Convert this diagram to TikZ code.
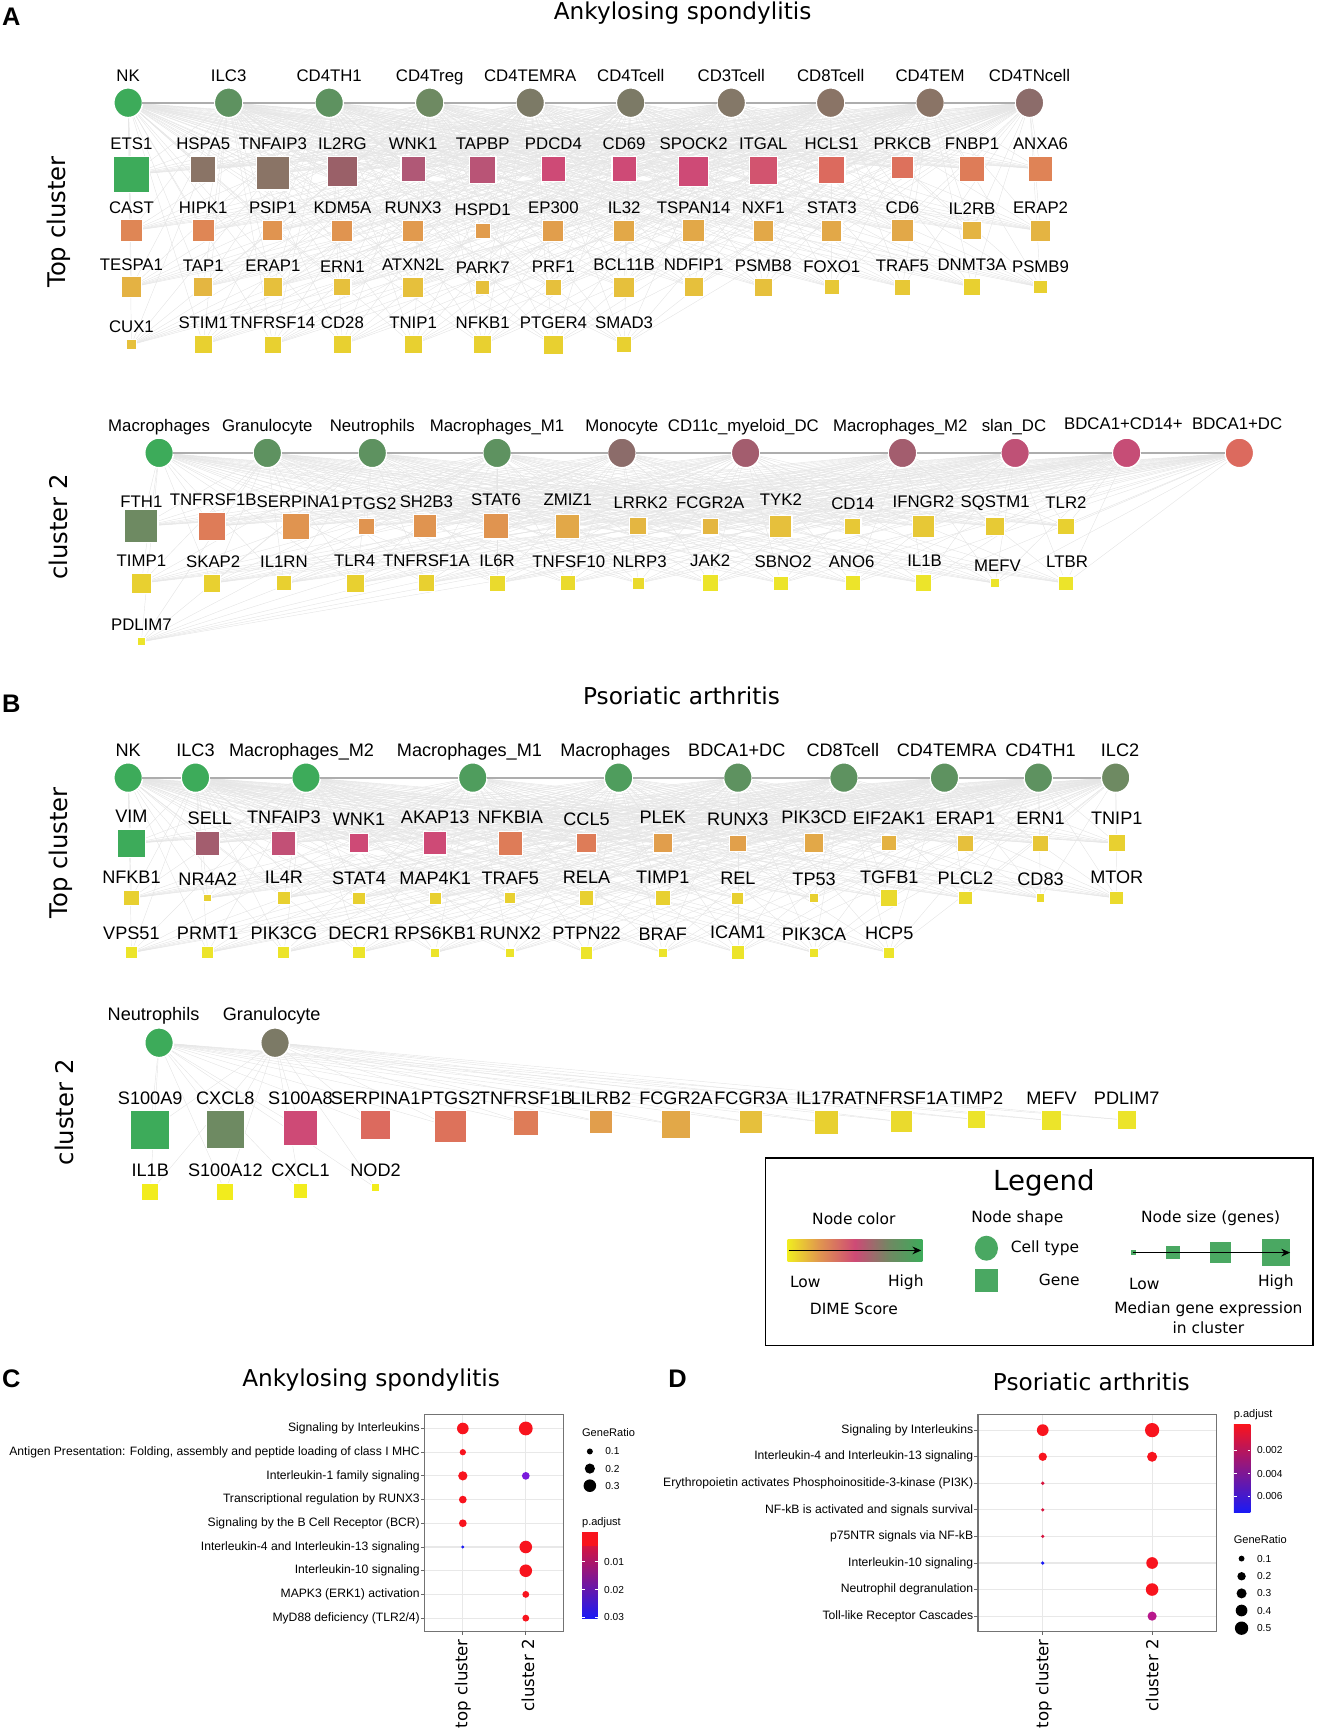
\documentclass[tikz,border=0pt]{standalone}
\usepackage{fontspec}
\setmainfont{Liberation Sans}
\newfontfamily\vfont{DejaVu Sans}
\usetikzlibrary{arrows.meta, shapes.geometric, backgrounds}

\definecolor{dGreen}{HTML}{3DAB5A}
\definecolor{dSage}{HTML}{5E9260}
\definecolor{dOlive}{HTML}{6E8A62}
\definecolor{dKhaki}{HTML}{7C7A66}
\definecolor{dStone}{HTML}{847868}
\definecolor{dTaupe}{HTML}{8A7466}
\definecolor{dDusk}{HTML}{8C6C6A}
\definecolor{dMauve}{HTML}{9A6068}
\definecolor{dPlum}{HTML}{B05876}
\definecolor{dRose}{HTML}{CE4A76}
\definecolor{dCoral}{HTML}{DC6A5E}
\definecolor{dSalmon}{HTML}{DE7C58}
\definecolor{dOrange}{HTML}{E09450}
\definecolor{dAmber}{HTML}{E2A848}
\definecolor{dGold}{HTML}{E6C03C}
\definecolor{dYellow}{HTML}{E8D030}
\definecolor{dLemon}{HTML}{ECE42A}
\definecolor{dBright}{HTML}{F0EC20}
\definecolor{dLegend}{HTML}{4AA862}
\definecolor{pRed}{HTML}{F8141E}
\definecolor{pBlue}{HTML}{1A1AF5}
\definecolor{pPurple}{HTML}{7A1ADC}
\definecolor{pMag}{HTML}{B8188C}

\pgfdeclarehorizontalshading{dimescale}{100bp}{color(0bp)=(dBright); color(25bp)=(dBright); color(37bp)=(dOrange); color(50bp)=(dRose); color(63bp)=(dOlive); color(75bp)=(dGreen); color(100bp)=(dGreen)}

\begin{document}
\begin{tikzpicture}[x=0.5pt, y=-0.5pt,
    every node/.style={inner sep=0pt, outer sep=0pt},
    cell/.style={ellipse, draw=white, line width=0.7pt, minimum width=13pt, minimum height=13.5pt},
    gene/.style={rectangle, draw=white, line width=0.5pt, minimum size=#1*0.5pt},
    lab/.style={font=\fontsize{7.6}{8}\selectfont, anchor=base},
    labB/.style={font=\fontsize{8.2}{9}\selectfont, anchor=base},
    link/.style={draw=black!10, line width=0.2pt},
    spine/.style={draw=black!32, line width=0.8pt},
    panel/.style={font=\bfseries\fontsize{11.5}{12}\selectfont, anchor=base west},
    title/.style={font=\vfont\fontsize{10.5}{11}\selectfont, anchor=base},
    side/.style={font=\vfont\fontsize{11}{11}\selectfont, rotate=90},
    pwy/.style={font=\fontsize{5.5}{6}\selectfont, anchor=east},
    dot/.style={circle, minimum size=#1*0.5pt},
    ltext/.style={font=\fontsize{5}{6}\selectfont, anchor=west},
    axlab/.style={font=\vfont\fontsize{7.5}{8}\selectfont, rotate=90, anchor=east},
    leg/.style={font=\vfont\fontsize{7}{8}\selectfont}]

\useasboundingbox (0,0) rectangle (1192,1568);

% ---------------- A: Ankylosing spondylitis ----------------
\node[panel] (lblA) at (2,23) {A};
\node[title] (ttlA) at (618,18) {Ankylosing spondylitis};
\node[side] (sideAT) at (53,201) {Top cluster};

% cell types
\node[cell, fill=dGreen]  (aT-NK)       at (116,93) {}; \node[lab] (aT-NK-t)       at (116,74) {NK};
\node[cell, fill=dSage]   (aT-ILC3)     at (207,93) {}; \node[lab] (aT-ILC3-t)     at (207,74) {ILC3};
\node[cell, fill=dSage]   (aT-CD4TH1)   at (298,93) {}; \node[lab] (aT-CD4TH1-t)   at (298,74) {CD4TH1};
\node[cell, fill=dOlive]  (aT-CD4Treg)  at (389,93) {}; \node[lab] (aT-CD4Treg-t)  at (389,74) {CD4Treg};
\node[cell, fill=dKhaki]  (aT-CD4TEMRA) at (480,93) {}; \node[lab] (aT-CD4TEMRA-t) at (480,74) {CD4TEMRA};
\node[cell, fill=dKhaki]  (aT-CD4Tcell) at (571,93) {}; \node[lab] (aT-CD4Tcell-t) at (571,74) {CD4Tcell};
\node[cell, fill=dStone]  (aT-CD3Tcell) at (662,93) {}; \node[lab] (aT-CD3Tcell-t) at (662,74) {CD3Tcell};
\node[cell, fill=dTaupe]  (aT-CD8Tcell) at (752,93) {}; \node[lab] (aT-CD8Tcell-t) at (752,74) {CD8Tcell};
\node[cell, fill=dTaupe]  (aT-CD4TEM)   at (842,93) {}; \node[lab] (aT-CD4TEM-t)   at (842,74) {CD4TEM};
\node[cell, fill=dDusk]   (aT-CD4TNcell) at (932,93) {}; \node[lab] (aT-CD4TNcell-t) at (932,74) {CD4TNcell};

% genes, row 1
\node[gene=32, fill=dGreen, anchor=north]  (aT-ETS1)    at (119,142) {}; \node[lab] (aT-ETS1-t)    at (119,135.5) {ETS1};
\node[gene=23, fill=dTaupe, anchor=north]  (aT-HSPA5)   at (184,142) {}; \node[lab] (aT-HSPA5-t)   at (184,135.5) {HSPA5};
\node[gene=30, fill=dTaupe, anchor=north]  (aT-TNFAIP3) at (247,142) {}; \node[lab] (aT-TNFAIP3-t) at (247,135.5) {TNFAIP3};
\node[gene=27, fill=dMauve, anchor=north]  (aT-IL2RG)   at (310,142) {}; \node[lab] (aT-IL2RG-t)   at (310,135.5) {IL2RG};
\node[gene=22, fill=dPlum, anchor=north]   (aT-WNK1)    at (374,142) {}; \node[lab] (aT-WNK1-t)    at (374,135.5) {WNK1};
\node[gene=24, fill=dPlum!70!dRose, anchor=north] (aT-TAPBP) at (437,142) {}; \node[lab] (aT-TAPBP-t) at (437,135.5) {TAPBP};
\node[gene=22, fill=dRose, anchor=north]   (aT-PDCD4)   at (501,142) {}; \node[lab] (aT-PDCD4-t)   at (501,135.5) {PDCD4};
\node[gene=22, fill=dRose, anchor=north]   (aT-CD69)    at (565,142) {}; \node[lab] (aT-CD69-t)    at (565,135.5) {CD69};
\node[gene=27, fill=dRose, anchor=north]   (aT-SPOCK2)  at (628,142) {}; \node[lab] (aT-SPOCK2-t)  at (628,135.5) {SPOCK2};
\node[gene=25, fill=dRose!70!dCoral, anchor=north] (aT-ITGAL) at (691,142) {}; \node[lab] (aT-ITGAL-t) at (691,135.5) {ITGAL};
\node[gene=24, fill=dCoral, anchor=north]  (aT-HCLS1)   at (753,142) {}; \node[lab] (aT-HCLS1-t)   at (753,135.5) {HCLS1};
\node[gene=20, fill=dCoral!60!dSalmon, anchor=north] (aT-PRKCB) at (817,142) {}; \node[lab] (aT-PRKCB-t) at (817,135.5) {PRKCB};
\node[gene=22, fill=dSalmon, anchor=north] (aT-FNBP1)   at (880,142) {}; \node[lab] (aT-FNBP1-t)   at (880,135.5) {FNBP1};
\node[gene=22, fill=dSalmon!70!dOrange, anchor=north] (aT-ANXA6) at (942,142) {}; \node[lab] (aT-ANXA6-t) at (942,135.5) {ANXA6};

% genes, row 2
\node[gene=20, fill=dSalmon!60!dOrange] (aT-CAST)    at (119,209) {}; \node[lab] (aT-CAST-t)    at (119,193) {CAST};
\node[gene=20, fill=dSalmon!60!dOrange] (aT-HIPK1)   at (184,209) {}; \node[lab] (aT-HIPK1-t)   at (184,193) {HIPK1};
\node[gene=18, fill=dOrange]            (aT-PSIP1)   at (247,209) {}; \node[lab] (aT-PSIP1-t)   at (247,193) {PSIP1};
\node[gene=19, fill=dOrange]            (aT-KDM5A)   at (310,209) {}; \node[lab] (aT-KDM5A-t)   at (310,193) {KDM5A};
\node[gene=18.5, fill=dOrange!70!dAmber] (aT-RUNX3)  at (374,209) {}; \node[lab] (aT-RUNX3-t)   at (374,193) {RUNX3};
\node[gene=13.5, fill=dOrange!60!dAmber] (aT-HSPD1)  at (437,209) {}; \node[lab] (aT-HSPD1-t)   at (437,195) {HSPD1};
\node[gene=19, fill=dOrange!50!dAmber]  (aT-EP300)   at (501,209) {}; \node[lab] (aT-EP300-t)   at (501,193) {EP300};
\node[gene=19, fill=dAmber]             (aT-IL32)    at (565,209) {}; \node[lab] (aT-IL32-t)    at (565,193) {IL32};
\node[gene=20, fill=dAmber]             (aT-TSPAN14) at (628,209) {}; \node[lab] (aT-TSPAN14-t) at (628,193) {TSPAN14};
\node[gene=18.5, fill=dAmber]           (aT-NXF1)    at (691,209) {}; \node[lab] (aT-NXF1-t)    at (691,193) {NXF1};
\node[gene=18.5, fill=dAmber]           (aT-STAT3)   at (753,209) {}; \node[lab] (aT-STAT3-t)   at (753,193) {STAT3};
\node[gene=20, fill=dAmber]             (aT-CD6)     at (817,209) {}; \node[lab] (aT-CD6-t)     at (817,193) {CD6};
\node[gene=16.5, fill=dAmber!50!dGold]  (aT-IL2RB)   at (880,209) {}; \node[lab] (aT-IL2RB-t)   at (880,194) {IL2RB};
\node[gene=18.5, fill=dAmber!50!dGold]  (aT-ERAP2)   at (942,209) {}; \node[lab] (aT-ERAP2-t)   at (942,193) {ERAP2};

% genes, row 3
\node[gene=19, fill=dAmber!60!dGold]    (aT-TESPA1)  at (119,260) {}; \node[lab] (aT-TESPA1-t)  at (119,245) {TESPA1};
\node[gene=17, fill=dAmber!40!dGold]    (aT-TAP1)    at (184,260) {}; \node[lab] (aT-TAP1-t)    at (184,246) {TAP1};
\node[gene=17.5, fill=dGold]            (aT-ERAP1)   at (247,260) {}; \node[lab] (aT-ERAP1-t)   at (247,246) {ERAP1};
\node[gene=15.5, fill=dGold]            (aT-ERN1)    at (310,260) {}; \node[lab] (aT-ERN1-t)    at (310,247) {ERN1};
\node[gene=18.5, fill=dGold]            (aT-ATXN2L)  at (374,260) {}; \node[lab] (aT-ATXN2L-t)  at (374,245) {ATXN2L};
\node[gene=12.5, fill=dGold]            (aT-PARK7)   at (437,260) {}; \node[lab] (aT-PARK7-t)   at (437,248) {PARK7};
\node[gene=14.5, fill=dGold]            (aT-PRF1)    at (501,260) {}; \node[lab] (aT-PRF1-t)    at (501,247) {PRF1};
\node[gene=18.5, fill=dGold]            (aT-BCL11B)  at (565,260) {}; \node[lab] (aT-BCL11B-t)  at (565,245) {BCL11B};
\node[gene=17.5, fill=dGold]            (aT-NDFIP1)  at (628,260) {}; \node[lab] (aT-NDFIP1-t)  at (628,245) {NDFIP1};
\node[gene=16.5, fill=dGold]            (aT-PSMB8)   at (691,260) {}; \node[lab] (aT-PSMB8-t)   at (691,246) {PSMB8};
\node[gene=13.5, fill=dGold!50!dYellow] (aT-FOXO1)   at (753,260) {}; \node[lab] (aT-FOXO1-t)   at (753,247) {FOXO1};
\node[gene=14.5, fill=dGold!50!dYellow] (aT-TRAF5)   at (817,260) {}; \node[lab] (aT-TRAF5-t)   at (817,246) {TRAF5};
\node[gene=15.5, fill=dYellow]          (aT-DNMT3A)  at (880,260) {}; \node[lab] (aT-DNMT3A-t)  at (880,245) {DNMT3A};
\node[gene=12, fill=dYellow]            (aT-PSMB9)   at (942,260) {}; \node[lab] (aT-PSMB9-t)   at (942,247) {PSMB9};

% genes, row 4
\node[gene=9, fill=dGold]       (aT-CUX1)     at (119,312) {}; \node[lab] (aT-CUX1-t)     at (119,301) {CUX1};
\node[gene=16.5, fill=dYellow]  (aT-STIM1)    at (184,312) {}; \node[lab] (aT-STIM1-t)    at (184,297) {STIM1};
\node[gene=15.5, fill=dYellow]  (aT-TNFRSF14) at (247,312) {}; \node[lab] (aT-TNFRSF14-t) at (247,297) {TNFRSF14};
\node[gene=16.5, fill=dYellow]  (aT-CD28)     at (310,312) {}; \node[lab] (aT-CD28-t)     at (310,297) {CD28};
\node[gene=16.5, fill=dYellow]  (aT-TNIP1)    at (374,312) {}; \node[lab] (aT-TNIP1-t)    at (374,297) {TNIP1};
\node[gene=16.5, fill=dYellow]  (aT-NFKB1)    at (437,312) {}; \node[lab] (aT-NFKB1-t)    at (437,297) {NFKB1};
\node[gene=17.5, fill=dYellow]  (aT-PTGER4)   at (501,312) {}; \node[lab] (aT-PTGER4-t)   at (501,297) {PTGER4};
\node[gene=14, fill=dYellow]    (aT-SMAD3)    at (565,312) {}; \node[lab] (aT-SMAD3-t)    at (565,297) {SMAD3};

\draw[spine] (aT-NK) -- (aT-ILC3) -- (aT-CD4TH1) -- (aT-CD4Treg) -- (aT-CD4TEMRA) -- (aT-CD4Tcell)
  -- (aT-CD3Tcell) -- (aT-CD8Tcell) -- (aT-CD4TEM) -- (aT-CD4TNcell);

% A, cluster 2
\node[side] (sideAC) at (53,477) {cluster 2};

\node[cell, fill=dGreen]  (aC-Mac)      at (144,410) {}; \node[lab] (aC-Mac-t)      at (144,390.5) {Macrophages};
\node[cell, fill=dSage]   (aC-Gran)     at (242,410) {}; \node[lab] (aC-Gran-t)     at (242,390.5) {Granulocyte};
\node[cell, fill=dSage]   (aC-Neu)      at (337,410) {}; \node[lab] (aC-Neu-t)      at (337,390.5) {Neutrophils};
\node[cell, fill=dSage]   (aC-MacM1)    at (450,410) {}; \node[lab] (aC-MacM1-t)    at (450,390.5) {Macrophages\_M1};
\node[cell, fill=dDusk]   (aC-Mono)     at (563,410) {}; \node[lab] (aC-Mono-t)     at (563,390.5) {Monocyte};
\node[cell, fill=dMauve!60!dPlum] (aC-mDC) at (675,410) {}; \node[lab] (aC-mDC-t) at (673,390.5) {CD11c\_myeloid\_DC};
\node[cell, fill=dMauve!60!dPlum] (aC-MacM2) at (817,410) {}; \node[lab] (aC-MacM2-t) at (815,390.5) {Macrophages\_M2};
\node[cell, fill=dPlum!50!dRose]  (aC-slanDC) at (919,410) {}; \node[lab] (aC-slanDC-t) at (918,390.5) {slan\_DC};
\node[cell, fill=dRose!75!dPlum]  (aC-BDCA1CD14) at (1020,410) {}; \node[lab] (aC-BDCA1CD14-t) at (1017,389) {BDCA1+CD14+};
\node[cell, fill=dCoral]  (aC-BDCA1DC)  at (1122,410) {}; \node[lab] (aC-BDCA1DC-t)  at (1120,389) {BDCA1+DC};

\node[gene=30, fill=dOlive]            (aC-FTH1)     at (128,476.5) {}; \node[lab] (aC-FTH1-t)     at (128,459) {FTH1};
\node[gene=25, fill=dSalmon]           (aC-TNFRSF1B) at (192,476.5) {}; \node[lab] (aC-TNFRSF1B-t) at (193,458) {TNFRSF1B};
\node[gene=24, fill=dOrange]           (aC-SERPINA1) at (268,476.5) {}; \node[lab] (aC-SERPINA1-t) at (270,459) {SERPINA1};
\node[gene=14.5, fill=dOrange]         (aC-PTGS2)    at (332,476.5) {}; \node[lab] (aC-PTGS2-t)    at (334,461) {PTGS2};
\node[gene=21, fill=dOrange]           (aC-SH2B3)    at (385,476.5) {}; \node[lab] (aC-SH2B3-t)    at (386,459) {SH2B3};
\node[gene=23, fill=dOrange]           (aC-STAT6)    at (449,476.5) {}; \node[lab] (aC-STAT6-t)    at (449,458) {STAT6};
\node[gene=22, fill=dAmber]            (aC-ZMIZ1)    at (514,476.5) {}; \node[lab] (aC-ZMIZ1-t)    at (514,458) {ZMIZ1};
\node[gene=15.5, fill=dAmber!40!dGold] (aC-LRRK2)    at (578,476.5) {}; \node[lab] (aC-LRRK2-t)    at (580,460) {LRRK2};
\node[gene=15, fill=dAmber!40!dGold]   (aC-FCGR2A)   at (643,476.5) {}; \node[lab] (aC-FCGR2A-t)   at (643,460) {FCGR2A};
\node[gene=20, fill=dGold]             (aC-TYK2)     at (707,476.5) {}; \node[lab] (aC-TYK2-t)     at (707,458) {TYK2};
\node[gene=15, fill=dGold!50!dYellow]  (aC-CD14)     at (772,476.5) {}; \node[lab] (aC-CD14-t)     at (772,461) {CD14};
\node[gene=20, fill=dGold!50!dYellow]  (aC-IFNGR2)   at (836,476.5) {}; \node[lab] (aC-IFNGR2-t)   at (836,459) {IFNGR2};
\node[gene=17, fill=dGold!40!dYellow]  (aC-SQSTM1)   at (901,476.5) {}; \node[lab] (aC-SQSTM1-t)   at (901,459) {SQSTM1};
\node[gene=15, fill=dYellow]           (aC-TLR2)     at (965,476.5) {}; \node[lab] (aC-TLR2-t)     at (965,460) {TLR2};

\node[gene=18, fill=dYellow]           (aC-TIMP1)    at (128,528) {}; \node[lab] (aC-TIMP1-t)    at (128,513) {TIMP1};
\node[gene=16, fill=dYellow]           (aC-SKAP2)    at (192,528) {}; \node[lab] (aC-SKAP2-t)    at (193,514) {SKAP2};
\node[gene=13.5, fill=dYellow]         (aC-IL1RN)    at (257,528) {}; \node[lab] (aC-IL1RN-t)    at (257,514) {IL1RN};
\node[gene=16, fill=dYellow]           (aC-TLR4)     at (322,528) {}; \node[lab] (aC-TLR4-t)     at (321,513) {TLR4};
\node[gene=15, fill=dYellow]           (aC-TNFRSF1A) at (386,528) {}; \node[lab] (aC-TNFRSF1A-t) at (386,513) {TNFRSF1A};
\node[gene=14.5, fill=dYellow!50!dLemon] (aC-IL6R)   at (450,528) {}; \node[lab] (aC-IL6R-t)     at (450,513) {IL6R};
\node[gene=13.5, fill=dYellow!50!dLemon] (aC-TNFSF10) at (514,528) {}; \node[lab] (aC-TNFSF10-t) at (515,514) {TNFSF10};
\node[gene=11, fill=dYellow!50!dLemon] (aC-NLRP3)    at (578,528) {}; \node[lab] (aC-NLRP3-t)    at (579,514) {NLRP3};
\node[gene=15, fill=dLemon]            (aC-JAK2)     at (643,528) {}; \node[lab] (aC-JAK2-t)     at (643,513) {JAK2};
\node[gene=13, fill=dLemon]            (aC-SBNO2)    at (707,528) {}; \node[lab] (aC-SBNO2-t)    at (709,514) {SBNO2};
\node[gene=13.5, fill=dLemon]          (aC-ANO6)     at (772,528) {}; \node[lab] (aC-ANO6-t)     at (771,514) {ANO6};
\node[gene=15, fill=dLemon]            (aC-IL1B)     at (836,528) {}; \node[lab] (aC-IL1B-t)     at (837,513) {IL1B};
\node[gene=8.5, fill=dLemon]           (aC-MEFV)     at (901,528) {}; \node[lab] (aC-MEFV-t)     at (903,517) {MEFV};
\node[gene=13, fill=dLemon]            (aC-LTBR)     at (965,528) {}; \node[lab] (aC-LTBR-t)     at (966,514) {LTBR};
\node[gene=7, fill=dLemon]             (aC-PDLIM7)   at (128,581) {}; \node[lab] (aC-PDLIM7-t)   at (128,571) {PDLIM7};

\draw[spine] (aC-Mac) -- (aC-Gran) -- (aC-Neu) -- (aC-MacM1) -- (aC-Mono) -- (aC-mDC)
  -- (aC-MacM2) -- (aC-slanDC) -- (aC-BDCA1CD14) -- (aC-BDCA1DC);

% ---------------- B: Psoriatic arthritis ----------------
\node[panel] (lblB) at (2,645) {B};
\node[title] (ttlB) at (617,638) {Psoriatic arthritis};
\node[side] (sideBT) at (55,772) {Top cluster};

\node[cell, fill=dGreen]  (bT-NK)       at (116,704) {}; \node[labB] (bT-NK-t)       at (116,684.5) {NK};
\node[cell, fill=dGreen]  (bT-ILC3)     at (177,704) {}; \node[labB] (bT-ILC3-t)     at (177,684.5) {ILC3};
\node[cell, fill=dGreen]  (bT-MacM2)    at (277,704) {}; \node[labB] (bT-MacM2-t)    at (273,684.5) {Macrophages\_M2};
\node[cell, fill=dGreen!45!dSage] (bT-MacM1) at (428,704) {}; \node[labB] (bT-MacM1-t) at (425,684.5) {Macrophages\_M1};
\node[cell, fill=dGreen!45!dSage] (bT-Mac)   at (560,704) {}; \node[labB] (bT-Mac-t)   at (557,684.5) {Macrophages};
\node[cell, fill=dSage]   (bT-BDCA1DC)  at (668,704) {}; \node[labB] (bT-BDCA1DC-t)  at (667,684.5) {BDCA1+DC};
\node[cell, fill=dSage]   (bT-CD8Tcell) at (764,704) {}; \node[labB] (bT-CD8Tcell-t) at (763,684.5) {CD8Tcell};
\node[cell, fill=dSage]   (bT-CD4TEMRA) at (855,704) {}; \node[labB] (bT-CD4TEMRA-t) at (857,684.5) {CD4TEMRA};
\node[cell, fill=dSage]   (bT-CD4TH1)   at (940,704) {}; \node[labB] (bT-CD4TH1-t)   at (942,684.5) {CD4TH1};
\node[cell, fill=dOlive]  (bT-ILC2)     at (1010,704) {}; \node[labB] (bT-ILC2-t)    at (1014,684.5) {ILC2};

\node[gene=26, fill=dGreen]            (bT-VIM)     at (119,763.5) {}; \node[labB] (bT-VIM-t)     at (119,745) {VIM};
\node[gene=21.5, fill=dMauve!60!dPlum] (bT-SELL)    at (188,763.5) {}; \node[labB] (bT-SELL-t)    at (190,746) {SELL};
\node[gene=22, fill=dRose!60!dPlum]    (bT-TNFAIP3) at (257,763.5) {}; \node[labB] (bT-TNFAIP3-t) at (257,745.5) {TNFAIP3};
\node[gene=17.5, fill=dRose]           (bT-WNK1)    at (325,763.5) {}; \node[labB] (bT-WNK1-t)    at (325,747) {WNK1};
\node[gene=21, fill=dRose]             (bT-AKAP13)  at (394,763.5) {}; \node[labB] (bT-AKAP13-t)  at (394,745.5) {AKAP13};
\node[gene=22, fill=dSalmon]           (bT-NFKBIA)  at (462,763.5) {}; \node[labB] (bT-NFKBIA-t)  at (462,745.5) {NFKBIA};
\node[gene=17.5, fill=dSalmon]         (bT-CCL5)    at (531,763.5) {}; \node[labB] (bT-CCL5-t)    at (531,747) {CCL5};
\node[gene=17.5, fill=dOrange!50!dAmber] (bT-PLEK)  at (600,763.5) {}; \node[labB] (bT-PLEK-t)    at (600,745.5) {PLEK};
\node[gene=15, fill=dOrange!40!dAmber] (bT-RUNX3)   at (668,763.5) {}; \node[labB] (bT-RUNX3-t)   at (668,747) {RUNX3};
\node[gene=17.5, fill=dAmber]          (bT-PIK3CD)  at (737,763.5) {}; \node[labB] (bT-PIK3CD-t)  at (737,745.5) {PIK3CD};
\node[gene=13.5, fill=dAmber!60!dGold] (bT-EIF2AK1) at (805,763.5) {}; \node[labB] (bT-EIF2AK1-t) at (805,746.5) {EIF2AK1};
\node[gene=15, fill=dGold]             (bT-ERAP1)   at (874,763.5) {}; \node[labB] (bT-ERAP1-t)   at (874,746.5) {ERAP1};
\node[gene=14.5, fill=dGold!60!dYellow] (bT-ERN1)   at (942,763.5) {}; \node[labB] (bT-ERN1-t)    at (942,746.5) {ERN1};
\node[gene=15.5, fill=dYellow]         (bT-TNIP1)   at (1011,763.5) {}; \node[labB] (bT-TNIP1-t)  at (1011,746.5) {TNIP1};

\node[gene=14, fill=dYellow]   (bT-NFKB1)  at (119,813) {}; \node[labB] (bT-NFKB1-t)  at (119,799.5) {NFKB1};
\node[gene=7, fill=dYellow]    (bT-NR4A2)  at (188,813) {}; \node[labB] (bT-NR4A2-t)  at (188,801.5) {NR4A2};
\node[gene=12.5, fill=dYellow] (bT-IL4R)   at (257,813) {}; \node[labB] (bT-IL4R-t)   at (257,799.5) {IL4R};
\node[gene=11, fill=dYellow]   (bT-STAT4)  at (325,813) {}; \node[labB] (bT-STAT4-t)  at (325,800.5) {STAT4};
\node[gene=11, fill=dYellow]   (bT-MAP4K1) at (394,813) {}; \node[labB] (bT-MAP4K1-t) at (394,800.5) {MAP4K1};
\node[gene=10, fill=dYellow]   (bT-TRAF5)  at (462,813) {}; \node[labB] (bT-TRAF5-t)  at (462,801) {TRAF5};
\node[gene=13.5, fill=dYellow] (bT-RELA)   at (531,813) {}; \node[labB] (bT-RELA-t)   at (531,799.5) {RELA};
\node[gene=13.5, fill=dYellow] (bT-TIMP1)  at (600,813) {}; \node[labB] (bT-TIMP1-t)  at (600,799.5) {TIMP1};
\node[gene=11, fill=dYellow]   (bT-REL)    at (668,813) {}; \node[labB] (bT-REL-t)    at (668,800.5) {REL};
\node[gene=8.5, fill=dYellow]  (bT-TP53)   at (737,813) {}; \node[labB] (bT-TP53-t)   at (737,801.5) {TP53};
\node[gene=15, fill=dYellow!50!dLemon] (bT-TGFB1) at (805,813) {}; \node[labB] (bT-TGFB1-t) at (805,799.5) {TGFB1};
\node[gene=12, fill=dYellow!50!dLemon] (bT-PLCL2) at (874,813) {}; \node[labB] (bT-PLCL2-t) at (874,800.5) {PLCL2};
\node[gene=7.5, fill=dYellow!50!dLemon] (bT-CD83) at (942,813) {}; \node[labB] (bT-CD83-t)  at (942,801.5) {CD83};
\node[gene=12.5, fill=dYellow!50!dLemon] (bT-MTOR) at (1011,813) {}; \node[labB] (bT-MTOR-t) at (1011,799.5) {MTOR};

\node[gene=11, fill=dLemon]   (bT-VPS51)   at (119,862.5) {}; \node[labB] (bT-VPS51-t)   at (119,850.5) {VPS51};
\node[gene=11, fill=dLemon]   (bT-PRMT1)   at (188,862.5) {}; \node[labB] (bT-PRMT1-t)   at (188,850.5) {PRMT1};
\node[gene=11, fill=dLemon]   (bT-PIK3CG)  at (257,862.5) {}; \node[labB] (bT-PIK3CG-t)  at (257,850.5) {PIK3CG};
\node[gene=11, fill=dLemon]   (bT-DECR1)   at (325,862.5) {}; \node[labB] (bT-DECR1-t)   at (325,850.5) {DECR1};
\node[gene=8.5, fill=dLemon]  (bT-RPS6KB1) at (394,862.5) {}; \node[labB] (bT-RPS6KB1-t) at (394,850.5) {RPS6KB1};
\node[gene=8.5, fill=dLemon]  (bT-RUNX2)   at (462,862.5) {}; \node[labB] (bT-RUNX2-t)   at (462,850.5) {RUNX2};
\node[gene=11.5, fill=dLemon] (bT-PTPN22)  at (531,862.5) {}; \node[labB] (bT-PTPN22-t)  at (531,850.5) {PTPN22};
\node[gene=8.5, fill=dLemon]  (bT-BRAF)    at (600,862.5) {}; \node[labB] (bT-BRAF-t)    at (600,851.5) {BRAF};
\node[gene=12.5, fill=dLemon] (bT-ICAM1)   at (668,862.5) {}; \node[labB] (bT-ICAM1-t)   at (668,849.5) {ICAM1};
\node[gene=8.5, fill=dLemon]  (bT-PIK3CA)  at (737,862.5) {}; \node[labB] (bT-PIK3CA-t)  at (737,851.5) {PIK3CA};
\node[gene=10, fill=dLemon]   (bT-HCP5)    at (805,862.5) {}; \node[labB] (bT-HCP5-t)    at (805,850.5) {HCP5};

\draw[spine] (bT-NK) -- (bT-ILC3) -- (bT-MacM2) -- (bT-MacM1) -- (bT-Mac) -- (bT-BDCA1DC)
  -- (bT-CD8Tcell) -- (bT-CD4TEMRA) -- (bT-CD4TH1) -- (bT-ILC2);

% B, cluster 2
\node[side] (sideBC) at (58,1007) {cluster 2};

\node[cell, fill=dGreen] (bC-Neu)  at (144,944) {}; \node[labB] (bC-Neu-t)  at (139,923.5) {Neutrophils};
\node[cell, fill=dKhaki] (bC-Gran) at (249,944) {}; \node[labB] (bC-Gran-t) at (246,923.5) {Granulocyte};

\node[gene=35, fill=dGreen, anchor=north]  (bC-S100A9)   at (136,1005.5) {}; \node[labB] (bC-S100A9-t)   at (136,999.5) {S100A9};
\node[gene=34, fill=dOlive, anchor=north]  (bC-CXCL8)    at (204,1005.5) {}; \node[labB] (bC-CXCL8-t)    at (204,999.5) {CXCL8};
\node[gene=31.5, fill=dRose, anchor=north] (bC-S100A8)   at (272,1005.5) {}; \node[labB] (bC-S100A8-t)   at (272,999.5) {S100A8};
\node[gene=26.5, fill=dCoral, anchor=north] (bC-SERPINA1) at (340,1005.5) {}; \node[labB] (bC-SERPINA1-t) at (340,999.5) {SERPINA1};
\node[gene=29, fill=dCoral!55!dSalmon, anchor=north] (bC-PTGS2) at (408,1005.5) {}; \node[labB] (bC-PTGS2-t) at (408,999.5) {PTGS2};
\node[gene=22.5, fill=dSalmon, anchor=north] (bC-TNFRSF1B) at (476,1005.5) {}; \node[labB] (bC-TNFRSF1B-t) at (476,999.5) {TNFRSF1B};
\node[gene=20.5, fill=dOrange!50!dAmber, anchor=north] (bC-LILRB2) at (544,1005.5) {}; \node[labB] (bC-LILRB2-t) at (544,999.5) {LILRB2};
\node[gene=25.5, fill=dAmber, anchor=north] (bC-FCGR2A)  at (612,1005.5) {}; \node[labB] (bC-FCGR2A-t)   at (612,999.5) {FCGR2A};
\node[gene=21, fill=dGold, anchor=north]   (bC-FCGR3A)   at (680,1005.5) {}; \node[labB] (bC-FCGR3A-t)   at (680,999.5) {FCGR3A};
\node[gene=21.5, fill=dYellow, anchor=north] (bC-IL17RA) at (748,1005.5) {}; \node[labB] (bC-IL17RA-t)   at (748,999.5) {IL17RA};
\node[gene=20, fill=dYellow!50!dLemon, anchor=north] (bC-TNFRSF1A) at (816,1005.5) {}; \node[labB] (bC-TNFRSF1A-t) at (816,999.5) {TNFRSF1A};
\node[gene=16, fill=dLemon, anchor=north]  (bC-TIMP2)    at (884,1005.5) {}; \node[labB] (bC-TIMP2-t)    at (884,999.5) {TIMP2};
\node[gene=18, fill=dLemon, anchor=north]  (bC-MEFV)     at (952,1005.5) {}; \node[labB] (bC-MEFV-t)     at (952,999.5) {MEFV};
\node[gene=17, fill=dLemon, anchor=north]  (bC-PDLIM7)   at (1020,1005.5) {}; \node[labB] (bC-PDLIM7-t)  at (1020,999.5) {PDLIM7};

\node[gene=15, fill=dLemon!70!yellow, anchor=north]   (bC-IL1B)    at (136,1071.5) {}; \node[labB] (bC-IL1B-t)    at (136,1065.5) {IL1B};
\node[gene=15.5, fill=dLemon!70!yellow, anchor=north] (bC-S100A12) at (204,1071.5) {}; \node[labB] (bC-S100A12-t) at (204,1065.5) {S100A12};
\node[gene=13.5, fill=dLemon!70!yellow, anchor=north] (bC-CXCL1)   at (272,1071.5) {}; \node[labB] (bC-CXCL1-t)   at (272,1065.5) {CXCL1};
\node[gene=7.5, fill=dLemon!70!yellow, anchor=north]  (bC-NOD2)    at (340,1071.5) {}; \node[labB] (bC-NOD2-t)    at (340,1065.5) {NOD2};

% network edges behind the nodes
\begin{pgfonlayer}{background}
\foreach \c in {NK,ILC3,CD4TH1,CD4Treg,CD4TEMRA,CD4Tcell,CD3Tcell,CD8Tcell,CD4TEM,CD4TNcell}
  \foreach \g in {ETS1,HSPA5,TNFAIP3,IL2RG,WNK1,TAPBP,PDCD4,CD69,SPOCK2,ITGAL,HCLS1,PRKCB,FNBP1,ANXA6,
      CAST,HIPK1,PSIP1,KDM5A,RUNX3,HSPD1,EP300,IL32,TSPAN14,NXF1,STAT3,CD6,IL2RB,ERAP2,
      TESPA1,TAP1,ERAP1,ERN1,ATXN2L,PARK7,PRF1,BCL11B,NDFIP1,PSMB8,FOXO1,TRAF5,DNMT3A,PSMB9,
      CUX1,STIM1,TNFRSF14,CD28,TNIP1,NFKB1,PTGER4,SMAD3}
    \draw[link] (aT-\c) -- (aT-\g);
\foreach \c in {Mac,Gran,Neu,MacM1,Mono,mDC,MacM2,slanDC,BDCA1CD14,BDCA1DC}
  \foreach \g in {FTH1,TNFRSF1B,SERPINA1,PTGS2,SH2B3,STAT6,ZMIZ1,LRRK2,FCGR2A,TYK2,CD14,IFNGR2,SQSTM1,TLR2,
      TIMP1,SKAP2,IL1RN,TLR4,TNFRSF1A,IL6R,TNFSF10,NLRP3,JAK2,SBNO2,ANO6,IL1B,MEFV,LTBR,PDLIM7}
    \draw[link] (aC-\c) -- (aC-\g);
\foreach \c in {NK,ILC3,MacM2,MacM1,Mac,BDCA1DC,CD8Tcell,CD4TEMRA,CD4TH1,ILC2}
  \foreach \g in {VIM,SELL,TNFAIP3,WNK1,AKAP13,NFKBIA,CCL5,PLEK,RUNX3,PIK3CD,EIF2AK1,ERAP1,ERN1,TNIP1,
      NFKB1,NR4A2,IL4R,STAT4,MAP4K1,TRAF5,RELA,TIMP1,REL,TP53,TGFB1,PLCL2,CD83,MTOR,
      VPS51,PRMT1,PIK3CG,DECR1,RPS6KB1,RUNX2,PTPN22,BRAF,ICAM1,PIK3CA,HCP5}
    \draw[link] (bT-\c) -- (bT-\g);
\foreach \c in {Neu,Gran}
  \foreach \g in {S100A9,CXCL8,S100A8,SERPINA1,PTGS2,TNFRSF1B,LILRB2,FCGR2A,FCGR3A,IL17RA,TNFRSF1A,TIMP2,MEFV,PDLIM7,
      IL1B,S100A12,CXCL1,NOD2}
    \draw[link] (bC-\c) -- (bC-\g);
\end{pgfonlayer}

% ---------------- Legend ----------------
\draw[line width=0.8pt] (693,1048) rectangle (1189,1218);
\node[leg, font=\vfont\fontsize{12.5}{13}\selectfont] (legT) at (945,1071) {Legend};
\node[leg] (legColor) at (773,1103) {Node color};
\node[leg] (legShape) at (921,1103) {Node shape};
\node[leg] (legSize)  at (1096,1103) {Node size (genes)};
\shade[shading=dimescale] (713,1122) rectangle (835,1142);
\coordinate (gradL) at (714,1132);
\coordinate (gradR) at (834,1132);
\draw[-{Stealth[length=4pt,width=3.5pt]}, line width=0.5pt] (gradL) -- (gradR);
\node[leg] (legLow1)  at (729,1161) {Low};
\node[leg] (legHigh1) at (820,1161) {High};
\node[leg] (legDime)  at (773,1185) {DIME Score};
\node[ellipse, fill=dLegend, minimum width=10.5pt, minimum height=11.3pt] (legCirc) at (893,1130) {};
\node[leg] (legCell) at (946,1130) {Cell type};
\node[rectangle, fill=dLegend, minimum size=10.5pt] (legSq) at (893,1159) {};
\node[leg] (legGene) at (959,1159) {Gene};
\node[gene=6, fill=dLegend]  (legS1) at (1026,1134) {};
\node[gene=13, fill=dLegend] (legS2) at (1062,1134) {};
\node[gene=20, fill=dLegend] (legS3) at (1105,1134) {};
\node[gene=26, fill=dLegend] (legS4) at (1155,1134) {};
\coordinate (sizeR) at (1168,1134);
\draw[-{Stealth[length=4pt,width=3.5pt]}, line width=0.5pt] (legS1.center) -- (sizeR);
\node[leg] (legLow2)  at (1036,1162) {Low};
\node[leg] (legHigh2) at (1155,1161) {High};
\node[leg] (legMed)   at (1094,1185) {Median gene expression};
\node[leg] (legIn)    at (1094,1202) {in cluster};

% ---------------- C: enrichment, Ankylosing spondylitis ----------------
\node[panel] (lblC) at (2,1256) {C};
\node[title] (ttlC) at (336,1255) {Ankylosing spondylitis};
\foreach \y in {1293.2,1314.7,1336.1,1357.6,1379,1400.5,1422,1443.4,1464.9}
  \draw[black!9, line width=0.5pt] (384,\y) -- (510.5,\y);
\draw[black!9, line width=0.5pt] (419,1280.5) -- (419,1476.6);
\draw[black!9, line width=0.5pt] (476,1280.5) -- (476,1476.6);
\draw[black!55, line width=0.5pt] (384,1280.5) rectangle (510.5,1476.6);
\foreach \t [count=\i] in {{Signaling by Interleukins},
    {Antigen Presentation: Folding, assembly and peptide loading of class I MHC},
    {Interleukin-1 family signaling},{Transcriptional regulation by RUNX3},
    {Signaling by the B Cell Receptor (BCR)},{Interleukin-4 and Interleukin-13 signaling},
    {Interleukin-10 signaling},{MAPK3 (ERK1) activation},{MyD88 deficiency (TLR2/4)}}
  {\node[pwy] (cP\i) at (380,1293.2+21.46*\i-21.46) {\t};
   \draw[black!60, line width=0.4pt] (381,1293.2+21.46*\i-21.46) -- (384,1293.2+21.46*\i-21.46);}
\draw[black!60, line width=0.4pt] (419,1476.6) -- (419,1480);
\draw[black!60, line width=0.4pt] (476,1476.6) -- (476,1480);
\node[dot=10.5, fill=pRed]  (cD1a) at (419,1293.2) {};
\node[dot=12.5, fill=pRed]  (cD1b) at (476,1293.2) {};
\node[dot=5.7, fill=pRed]   (cD2a) at (419,1314.7) {};
\node[dot=8.4, fill=pRed]   (cD3a) at (419,1336.1) {};
\node[dot=7, fill=pPurple]  (cD3b) at (476,1336.1) {};
\node[dot=7, fill=pRed]     (cD4a) at (419,1357.6) {};
\node[dot=7, fill=pRed]     (cD5a) at (419,1379) {};
\node[dot=3, fill=pBlue]    (cD6a) at (419,1400.5) {};
\node[dot=11.4, fill=pRed]  (cD6b) at (476,1400.5) {};
\node[dot=11.4, fill=pRed]  (cD7b) at (476,1422) {};
\node[dot=6.2, fill=pRed]   (cD8b) at (476,1443.4) {};
\node[dot=6.2, fill=pRed]   (cD9b) at (476,1464.9) {};
\node[axlab] (cX1) at (419,1484) {top cluster};
\node[axlab] (cX2) at (478,1484) {cluster 2};
% legend of C
\node[ltext] (cGR) at (527,1297) {GeneRatio};
\node[dot=5.4, fill=black]  (cG1) at (534,1314) {}; \node[ltext, font=\fontsize{4.6}{5}\selectfont] (cG1t) at (548,1314) {0.1};
\node[dot=9.2, fill=black]  (cG2) at (534,1329.5) {}; \node[ltext, font=\fontsize{4.6}{5}\selectfont] (cG2t) at (548,1329.5) {0.2};
\node[dot=11.4, fill=black] (cG3) at (534,1345) {}; \node[ltext, font=\fontsize{4.6}{5}\selectfont] (cG3t) at (548,1345) {0.3};
\node[ltext] (cPA) at (527,1378) {p.adjust};
\shade[top color=pRed, middle color=pRed!60!pBlue, bottom color=pBlue] (527,1387) rectangle (541,1465);
\fill[pRed] (527,1387) rectangle (541,1400);
\foreach \y/\v [count=\i] in {1414/0.01,1439/0.02,1464/0.03}
  {\draw[white, line width=0.4pt] (527,\y) -- (529.5,\y) (538.5,\y) -- (541,\y);
   \node[ltext, font=\fontsize{4.6}{5}\selectfont] (cT\i) at (547,\y) {\v};}

% ---------------- D: enrichment, Psoriatic arthritis ----------------
\node[panel] (lblD) at (605,1256) {D};
\node[title] (ttlD) at (988,1259) {Psoriatic arthritis};
\foreach \y in {1294.7,1318.8,1342.8,1366.9,1390.9,1415,1439,1463.1}
  \draw[black!9, line width=0.5pt] (885.4,\y) -- (1101.5,\y);
\draw[black!9, line width=0.5pt] (944,1280.5) -- (944,1476.6);
\draw[black!9, line width=0.5pt] (1043,1280.5) -- (1043,1476.6);
\draw[black!55, line width=0.5pt] (885.4,1280.5) rectangle (1101.5,1476.6);
\foreach \t [count=\i] in {{Signaling by Interleukins},{Interleukin-4 and Interleukin-13 signaling},
    {Erythropoietin activates Phosphoinositide-3-kinase (PI3K)},{NF-kB is activated and signals survival},
    {p75NTR signals via NF-kB},{Interleukin-10 signaling},{Neutrophil degranulation},{Toll-like Receptor Cascades}}
  {\node[pwy] (dP\i) at (881,1294.7+24.06*\i-24.06) {\t};
   \draw[black!60, line width=0.4pt] (882,1294.7+24.06*\i-24.06) -- (885.4,1294.7+24.06*\i-24.06);}
\draw[black!60, line width=0.4pt] (944,1476.6) -- (944,1480);
\draw[black!60, line width=0.4pt] (1043,1476.6) -- (1043,1480);
\node[dot=10.6, fill=pRed]  (dD1a) at (944,1294.7) {};
\node[dot=12.9, fill=pRed]  (dD1b) at (1043,1294.7) {};
\node[dot=7.6, fill=pRed]   (dD2a) at (944,1318.8) {};
\node[dot=9.1, fill=pRed]   (dD2b) at (1043,1318.8) {};
\node[dot=3.2, fill=pRed!85!pBlue] (dD3a) at (944,1342.8) {};
\node[dot=3.2, fill=pRed!85!pBlue] (dD4a) at (944,1366.9) {};
\node[dot=3.2, fill=pRed!85!pBlue] (dD5a) at (944,1390.9) {};
\node[dot=3.2, fill=pBlue]  (dD6a) at (944,1415) {};
\node[dot=10.6, fill=pRed]  (dD6b) at (1043,1415) {};
\node[dot=11.4, fill=pRed]  (dD7b) at (1043,1439) {};
\node[dot=8.3, fill=pMag]   (dD8b) at (1043,1463.1) {};
\node[axlab] (dX1) at (945,1484) {top cluster};
\node[axlab] (dX2) at (1043,1484) {cluster 2};
% legend of D
\node[ltext] (dPA) at (1117,1281) {p.adjust};
\shade[top color=pRed, middle color=pRed!55!pBlue, bottom color=pBlue] (1117,1290) rectangle (1132,1369);
\foreach \y/\v [count=\i] in {1313/0.002,1334/0.004,1354.5/0.006}
  {\draw[white, line width=0.4pt] (1117,\y) -- (1119.5,\y) (1129.5,\y) -- (1132,\y);
   \node[ltext, font=\fontsize{4.6}{5}\selectfont] (dT\i) at (1138,\y) {\v};}
\node[ltext] (dGR) at (1117,1394) {GeneRatio};
\foreach \y/\s/\v [count=\i] in {1411/5.3/0.1,1427/7.6/0.2,1442.5/9.1/0.3,1458/10.6/0.4,1474/12.1/0.5}
  {\node[dot=\s, fill=black] (dG\i) at (1124,\y) {};
   \node[ltext, font=\fontsize{4.6}{5}\selectfont] (dG\i t) at (1138,\y) {\v};}

\end{tikzpicture}
\end{document}
